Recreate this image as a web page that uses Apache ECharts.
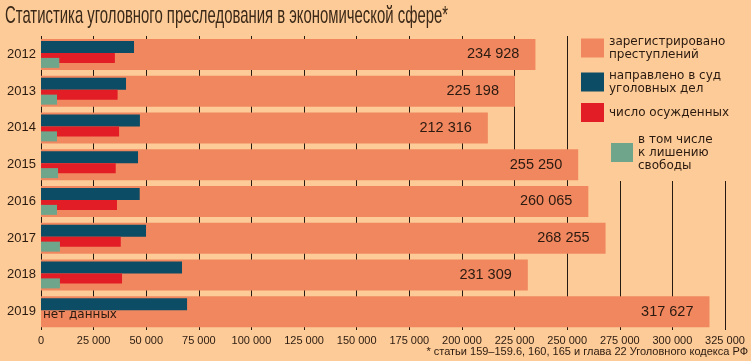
<!DOCTYPE html>
<html>
<head>
<meta charset="utf-8">
<script src="https://cdn.jsdelivr.net/npm/echarts@6/dist/echarts.min.js"></script>
<style>
html,body{margin:0;padding:0;background:#FDCB97;}
#chart{width:751px;height:361px;}
</style>
</head>
<body>
<div id="chart"></div>
<script>
// ---- data ----
const years = ['2012', '2013', '2014', '2015', '2016', '2017', '2018', '2019'];
const registered = [234928, 225198, 212316, 255250, 260065, 268255, 231309, 317627];
const sentToCourt = [44200, 40400, 47000, 46100, 46900, 49900, 67000, 69400];
const convicted = [35100, 36400, 37100, 35500, 36100, 37900, 38500, null];
const imprisoned = [8700, 7600, 7600, 8100, 7600, 9000, 9000, null];
const xTicks = [0, 25000, 50000, 75000, 100000, 125000, 150000, 175000, 200000, 225000, 250000, 275000, 300000, 325000];
const seriesNames = ['зарегистрировано\nпреступлений', 'направлено в суд\nуголовных дел', 'число осужденных', 'в том числе\nк лишению\nсвободы'];
const noDataText = 'нет данных';
const titleText = 'Статистика уголовного преследования в экономической сфере*';
const footnoteText = '* статьи 159–159.6, 160, 165 и глава 22 Уголовного кодекса РФ';

const BG = '#FDCB97';
const C_ORANGE = '#F0875F', C_TEAL = '#0C4D65', C_RED = '#E21D26', C_GREEN = '#6FA68B';
const TXT = '#2a1a10';

function fmt(v) { return String(v).replace(/\B(?=(\d{3})+(?!\d))/g, ' '); }

// condensed title: scale horizontally to the reference width
const TITLE_FONT = '24px "Liberation Sans"';
const ctx = document.createElement('canvas').getContext('2d');
ctx.font = TITLE_FONT;
const titleScale = 443 / ctx.measureText(titleText).width;

const chart = echarts.init(document.getElementById('chart'));
const catAxis = (i, show) => ({
  type: 'category', data: years, inverse: true, gridIndex: 0, show: show,
  axisLine: { show: false }, axisTick: { show: false },
  axisLabel: { show: show, fontFamily: 'Liberation Sans', fontSize: 13, color: TXT, margin: 5 }
});

const convictedData = convicted.map(v => v === null
  ? { value: 0, itemStyle: { color: 'rgba(0,0,0,0)' },
      label: { show: true, position: 'right', distance: 2, formatter: noDataText,
               fontFamily: 'DejaVu Sans', fontSize: 12, color: TXT } }
  : v);

chart.setOption({
  backgroundColor: BG,
  animation: false,
  title: [
    { text: footnoteText, right: 3, top: 346, padding: 0,
      textStyle: { fontFamily: 'Liberation Sans', fontWeight: 'normal', fontSize: 11, color: TXT } }
  ],
  graphic: [
    { type: 'text', left: 5, top: 4, scaleX: titleScale, z: 10,
      style: { text: titleText, font: TITLE_FONT, fill: '#3a2818' } }
  ],
  grid: { left: 41, right: 26, top: 36, height: 294, containLabel: false },
  xAxis: {
    type: 'value', min: xTicks[0], max: xTicks[xTicks.length - 1], interval: xTicks[1] - xTicks[0],
    axisLine: { show: false }, axisTick: { show: false },
    splitLine: { show: true, lineStyle: { color: '#241a12', width: 1 } },
    axisLabel: { fontFamily: 'Liberation Sans', fontSize: 11, color: TXT, margin: 5,
                 formatter: v => fmt(v) }
  },
  yAxis: [catAxis(0, true), catAxis(1, false), catAxis(2, false)],
  legend: [
    { orient: 'vertical', left: 578, top: 33, itemWidth: 23, itemHeight: 19, itemGap: 8,
      padding: [2, 30, 5, 3], backgroundColor: BG, selectedMode: false,
      icon: 'rect',
      textStyle: { fontFamily: 'DejaVu Sans', fontSize: 12, lineHeight: 13, color: TXT },
      data: [seriesNames[0], seriesNames[1], seriesNames[2]] },
    { orient: 'vertical', left: 606, top: 127, itemWidth: 22, itemHeight: 19,
      padding: [0, 60, 3, 5], backgroundColor: BG, selectedMode: false,
      icon: 'rect',
      textStyle: { fontFamily: 'DejaVu Sans', fontSize: 12, lineHeight: 13, color: TXT, padding: [12, 0, 0, 0] },
      data: [seriesNames[3]] }
  ],
  series: [
    { name: seriesNames[0], type: 'bar', yAxisIndex: 0, barWidth: 31, data: registered, z: 2,
      itemStyle: { color: C_ORANGE },
      label: { show: true, position: 'insideRight', distance: 16, formatter: p => fmt(p.value),
               fontFamily: 'Liberation Sans', fontSize: 14.5, color: TXT } },
    { name: seriesNames[1], type: 'bar', yAxisIndex: 1, barWidth: 12, barGap: 0, data: sentToCourt, z: 3,
      itemStyle: { color: C_TEAL } },
    { name: seriesNames[2], type: 'bar', yAxisIndex: 1, barWidth: 10, barGap: 0, data: convictedData, z: 3,
      itemStyle: { color: C_RED } },
    { name: 'spacer1', type: 'bar', yAxisIndex: 1, barWidth: 5, barGap: 0, silent: true,
      data: years.map(() => 0), itemStyle: { opacity: 0 } },
    { name: 'spacer2', type: 'bar', yAxisIndex: 2, barWidth: 17, barGap: 0, silent: true,
      data: years.map(() => 0), itemStyle: { opacity: 0 } },
    { name: seriesNames[3], type: 'bar', yAxisIndex: 2, barWidth: 10, barGap: 0, data: imprisoned, z: 4,
      itemStyle: { color: C_GREEN } }
  ]
});
</script>
</body>
</html>
